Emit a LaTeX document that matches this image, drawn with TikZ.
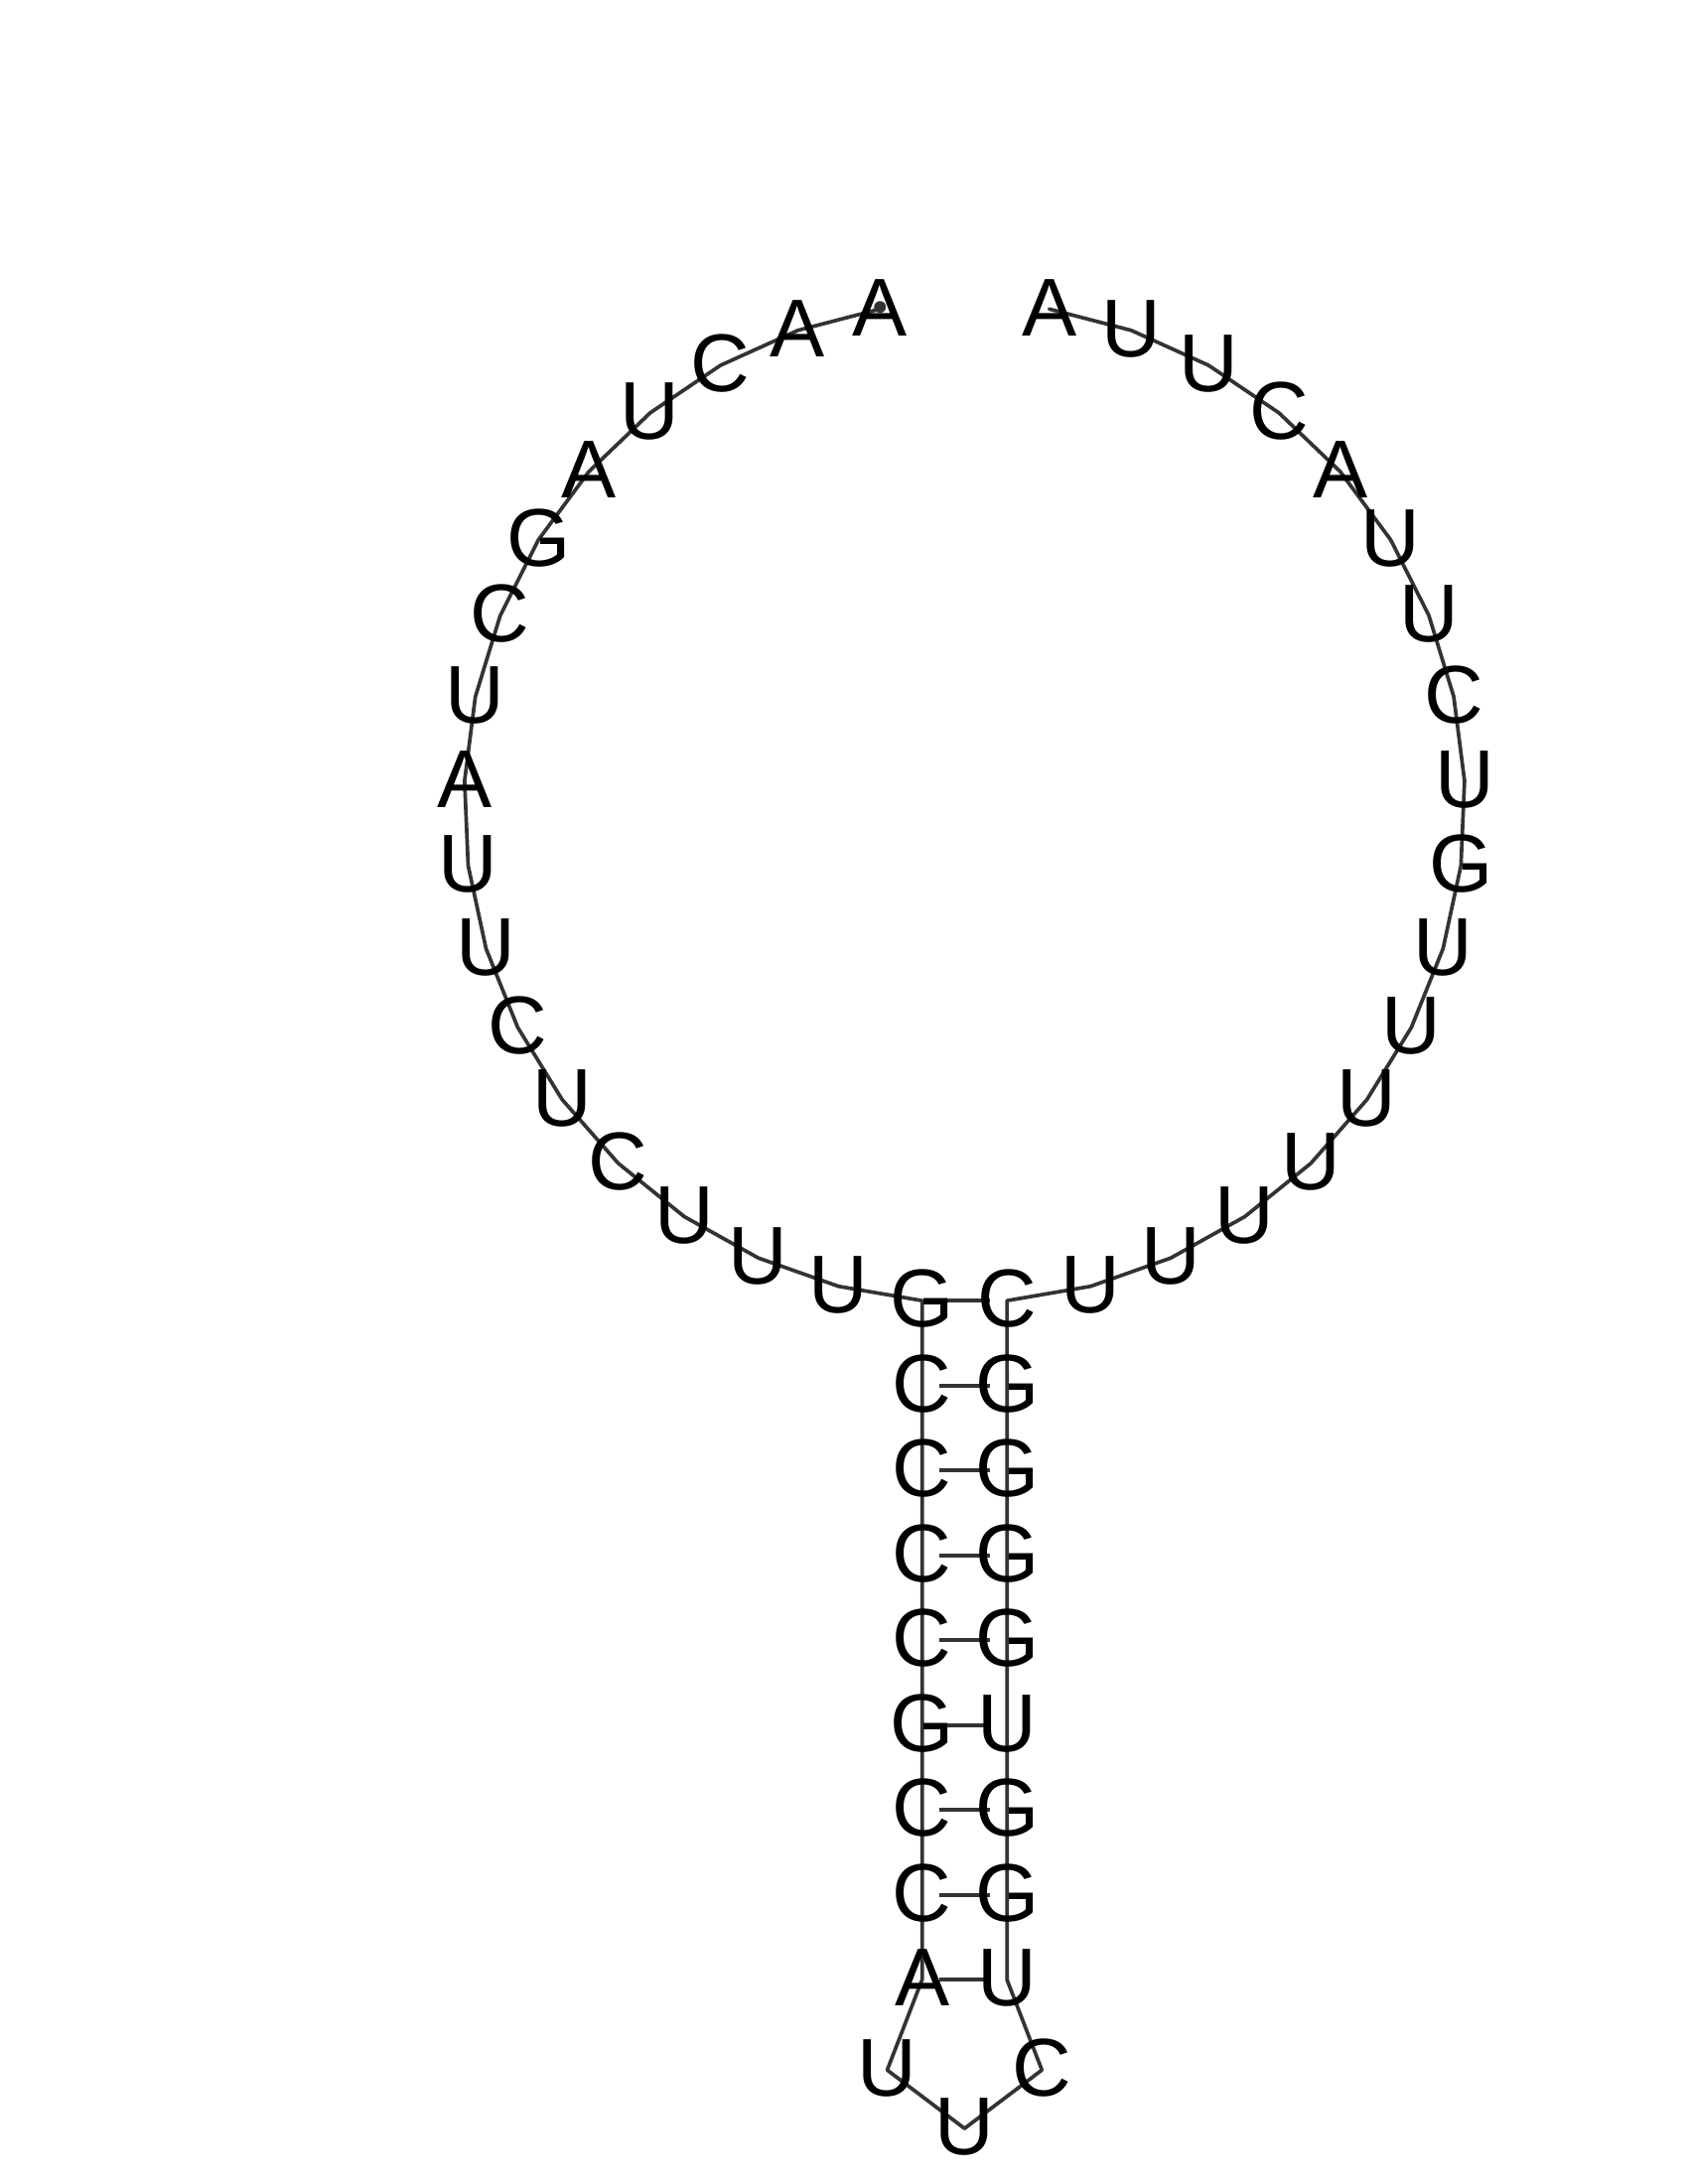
\documentclass[tikz,border=0pt]{standalone}
\usepackage{fontspec}
\setmainfont{Liberation Sans}
\usetikzlibrary{calc}
\begin{document}
\begin{tikzpicture}[x=0.01cm,y=-0.01cm,
  nuc/.style={font=\fontsize{23.5}{23.5}\selectfont, inner sep=0pt, text height=16.8pt, text depth=0pt, anchor=center, yshift=0.8pt},
  backbone/.style={draw=black!80, line width=1.05pt, line join=round, line cap=round},
  pairline/.style={draw=black!80, line width=1.05pt}]
\useasboundingbox (0,0) rectangle (1700,2200);
\def\cx{971.4}\def\cy{808}\def\R{504}\def\rowd{85.5}
% exterior loop, 5' side (slots 1..18)
\foreach \k in {1,...,18}{
  \coordinate (p\k) at ({\cx+\R*cos(90+\k*360/37)},{\cy-\R*sin(90+\k*360/37)});
}
% left strand of stem
\foreach \r in {1,...,8}{
  \pgfmathtruncatemacro\i{18+\r}
  \coordinate (p\i) at (928.66,{1310.2+\r*\rowd});
}
% hairpin loop
\coordinate (p27) at (893.5,2085.2);
\coordinate (p28) at (971.4,2144);
\coordinate (p29) at (1049.3,2085.2);
% right strand of stem
\foreach \i in {30,...,37}{
  \pgfmathsetmacro\r{38-\i}
  \coordinate (p\i) at (1014.14,{1310.2+\r*\rowd});
}
% exterior loop, 3' side (slots 19..36)
\foreach \i in {38,...,55}{
  \pgfmathsetmacro\s{\i-19}
  \coordinate (p\i) at ({\cx+\R*cos(90+\s*360/37)},{\cy-\R*sin(90+\s*360/37)});
}
% backbone
\draw[backbone] (p1) \foreach \i in {2,...,55}{ -- (p\i) };
\fill[black!80] ($(p1)+(0,-2)$) circle (1.7pt);
% base pairs
\foreach \a/\b in {18/38,19/37,20/36,21/35,22/34,23/33,24/32,25/31,26/30}{
  \draw[pairline] ($(p\a)!0.2!(p\b)$) -- ($(p\a)!0.8!(p\b)$);
}
% letters
\foreach \l [count=\i] in {A,A,C,U,A,G,C,U,A,U,U,C,U,C,U,U,U,G,C,C,C,C,G,C,C,A,U,U,C,U,G,G,U,G,G,G,G,C,U,U,U,U,U,U,U,G,U,C,U,U,A,C,U,U,A}{
  \node[nuc] (n\i) at (p\i) {\l};
}
\end{tikzpicture}
\end{document}
